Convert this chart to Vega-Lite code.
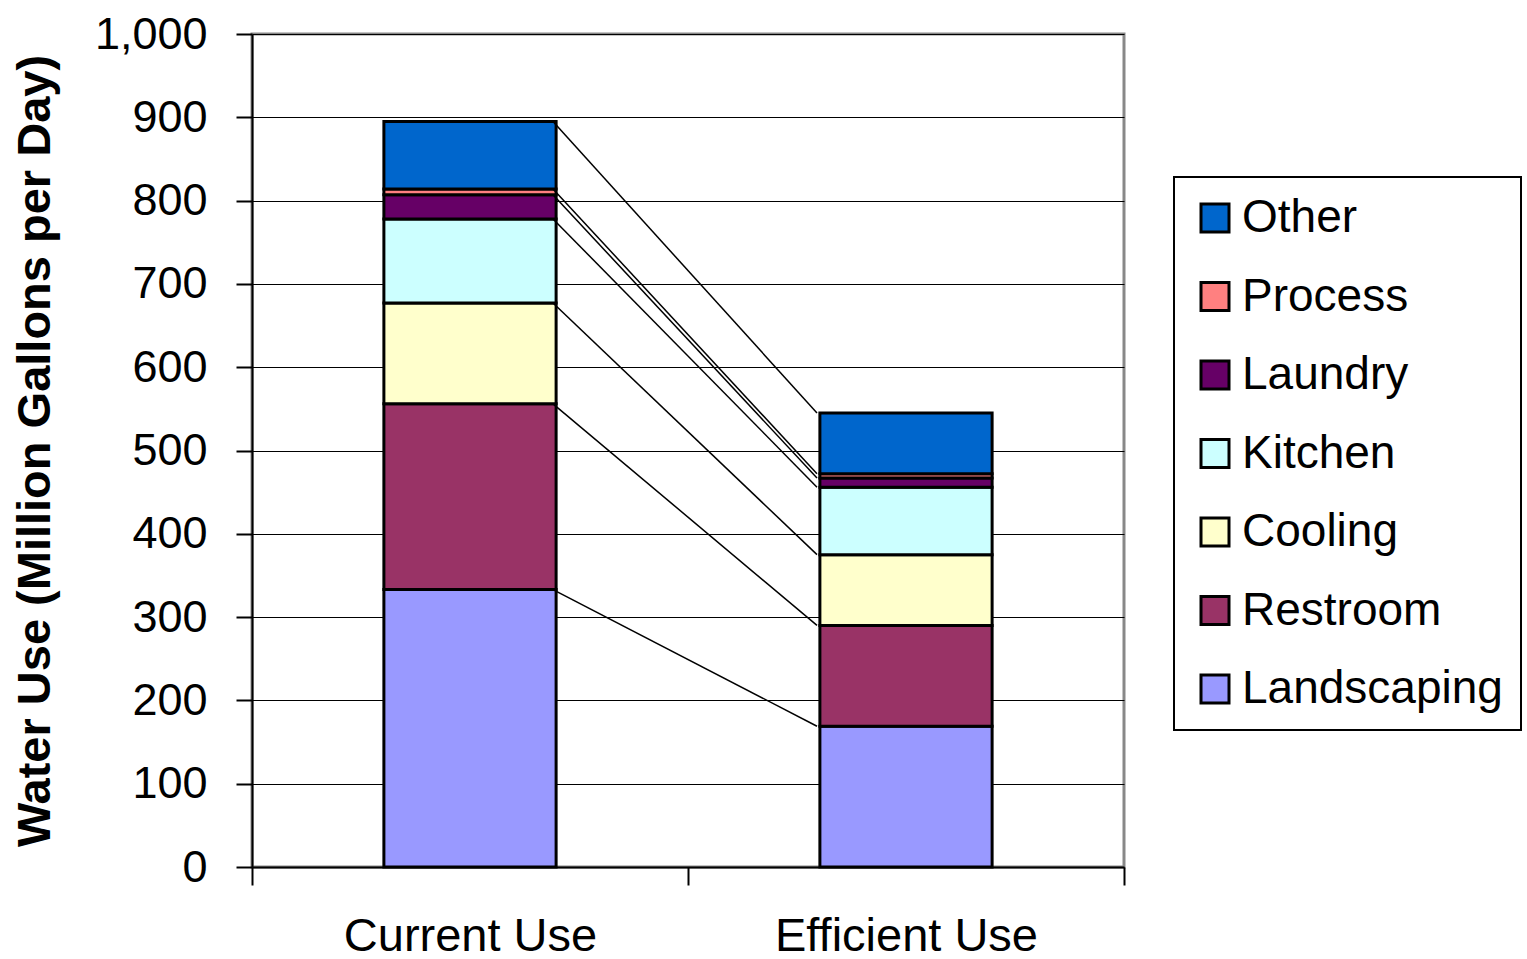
{
  "$schema": "https://vega.github.io/schema/vega-lite/v6.json",
  "width": 872,
  "height": 833,
  "padding": {"left": 11, "top": 12, "right": 0, "bottom": 0},
  "background": "white",
  "data": {
    "values": [
      {"Scenario": "Current Use", "Use": "Landscaping", "Rank": 1, "Amount": 333},
      {"Scenario": "Current Use", "Use": "Restroom", "Rank": 2, "Amount": 223},
      {"Scenario": "Current Use", "Use": "Cooling", "Rank": 3, "Amount": 121},
      {"Scenario": "Current Use", "Use": "Kitchen", "Rank": 4, "Amount": 101},
      {"Scenario": "Current Use", "Use": "Laundry", "Rank": 5, "Amount": 29},
      {"Scenario": "Current Use", "Use": "Process", "Rank": 6, "Amount": 7},
      {"Scenario": "Current Use", "Use": "Other", "Rank": 7, "Amount": 81},
      {"Scenario": "Efficient Use", "Use": "Landscaping", "Rank": 1, "Amount": 169},
      {"Scenario": "Efficient Use", "Use": "Restroom", "Rank": 2, "Amount": 121},
      {"Scenario": "Efficient Use", "Use": "Cooling", "Rank": 3, "Amount": 85},
      {"Scenario": "Efficient Use", "Use": "Kitchen", "Rank": 4, "Amount": 81},
      {"Scenario": "Efficient Use", "Use": "Laundry", "Rank": 5, "Amount": 11},
      {"Scenario": "Efficient Use", "Use": "Process", "Rank": 6, "Amount": 5},
      {"Scenario": "Efficient Use", "Use": "Other", "Rank": 7, "Amount": 73}
    ]
  },
  "transform": [
    {
      "stack": "Amount",
      "groupby": ["Scenario"],
      "sort": [{"field": "Rank", "order": "ascending"}],
      "as": ["y0", "y1"]
    }
  ],
  "resolve": {"scale": {"x": "independent"}, "axis": {"x": "independent"}},
  "layer": [
    {
      "mark": {
        "type": "bar",
        "width": {"band": 0.395},
        "stroke": "black",
        "strokeWidth": 3
      },
      "encoding": {
        "x": {
          "field": "Scenario",
          "type": "nominal",
          "scale": {"domain": ["Current Use", "Efficient Use"], "paddingInner": 0, "paddingOuter": 0},
          "axis": {
            "title": null,
            "labelAngle": 0,
            "labelFontSize": 47,
            "labelPadding": 28,
            "labelLimit": 500,
            "tickBand": "extent",
            "tickSize": 18,
            "tickWidth": 2,
            "tickColor": "black",
            "domainColor": "black",
            "domainWidth": 2,
            "grid": false
          }
        },
        "y": {
          "field": "y0",
          "type": "quantitative",
          "scale": {"domain": [0, 1000], "nice": false},
          "axis": {
            "title": "Water Use (Million Gallons per Day)",
            "titleFontSize": 47,
            "titleFontWeight": "bold",
            "titlePadding": 35,
            "values": [0, 100, 200, 300, 400, 500, 600, 700, 800, 900, 1000],
            "format": ",d",
            "labelFontSize": 45,
            "labelPadding": 29,
            "tickSize": 16,
            "tickWidth": 2,
            "tickColor": "black",
            "domainColor": "black",
            "domainWidth": 2,
            "grid": true,
            "gridColor": "black",
            "gridWidth": 1.2,
            "gridOpacity": 1
          }
        },
        "y2": {"field": "y1"},
        "color": {
          "field": "Use",
          "type": "nominal",
          "scale": {
            "domain": ["Other", "Process", "Laundry", "Kitchen", "Cooling", "Restroom", "Landscaping"],
            "range": ["#0066CC", "#FF8080", "#660066", "#CCFFFF", "#FFFFCC", "#993366", "#9999FF"]
          },
          "legend": {
            "title": null,
            "orient": "none",
            "legendX": 922,
            "legendY": 143,
            "fillColor": "white",
            "strokeColor": "black",
            "padding": 18,
            "symbolType": "square",
            "symbolSize": 784,
            "symbolStrokeColor": "black",
            "symbolStrokeWidth": 3,
            "symbolOpacity": 1,
            "labelFontSize": 46,
            "labelOffset": 4,
            "rowPadding": 32.5,
            "labelLimit": 500
          }
        }
      }
    },
    {
      "mark": {"type": "line", "color": "black", "strokeWidth": 1.5},
      "encoding": {
        "x": {
          "field": "Scenario",
          "type": "nominal",
          "scale": {"type": "point", "domain": ["Current Use", "Efficient Use"], "range": [301, 565], "padding": 0},
          "axis": null
        },
        "y": {"field": "y1", "type": "quantitative"},
        "detail": {"field": "Use", "type": "nominal"}
      }
    }
  ],
  "config": {
    "font": "Liberation Sans",
    "view": {"stroke": "#888888", "strokeWidth": 3},
    "axis": {"labelColor": "black", "titleColor": "black", "labelFont": "Liberation Sans", "titleFont": "Liberation Sans"},
    "legend": {"labelColor": "black", "labelFont": "Liberation Sans", "strokeWidth": 2}
  }
}
